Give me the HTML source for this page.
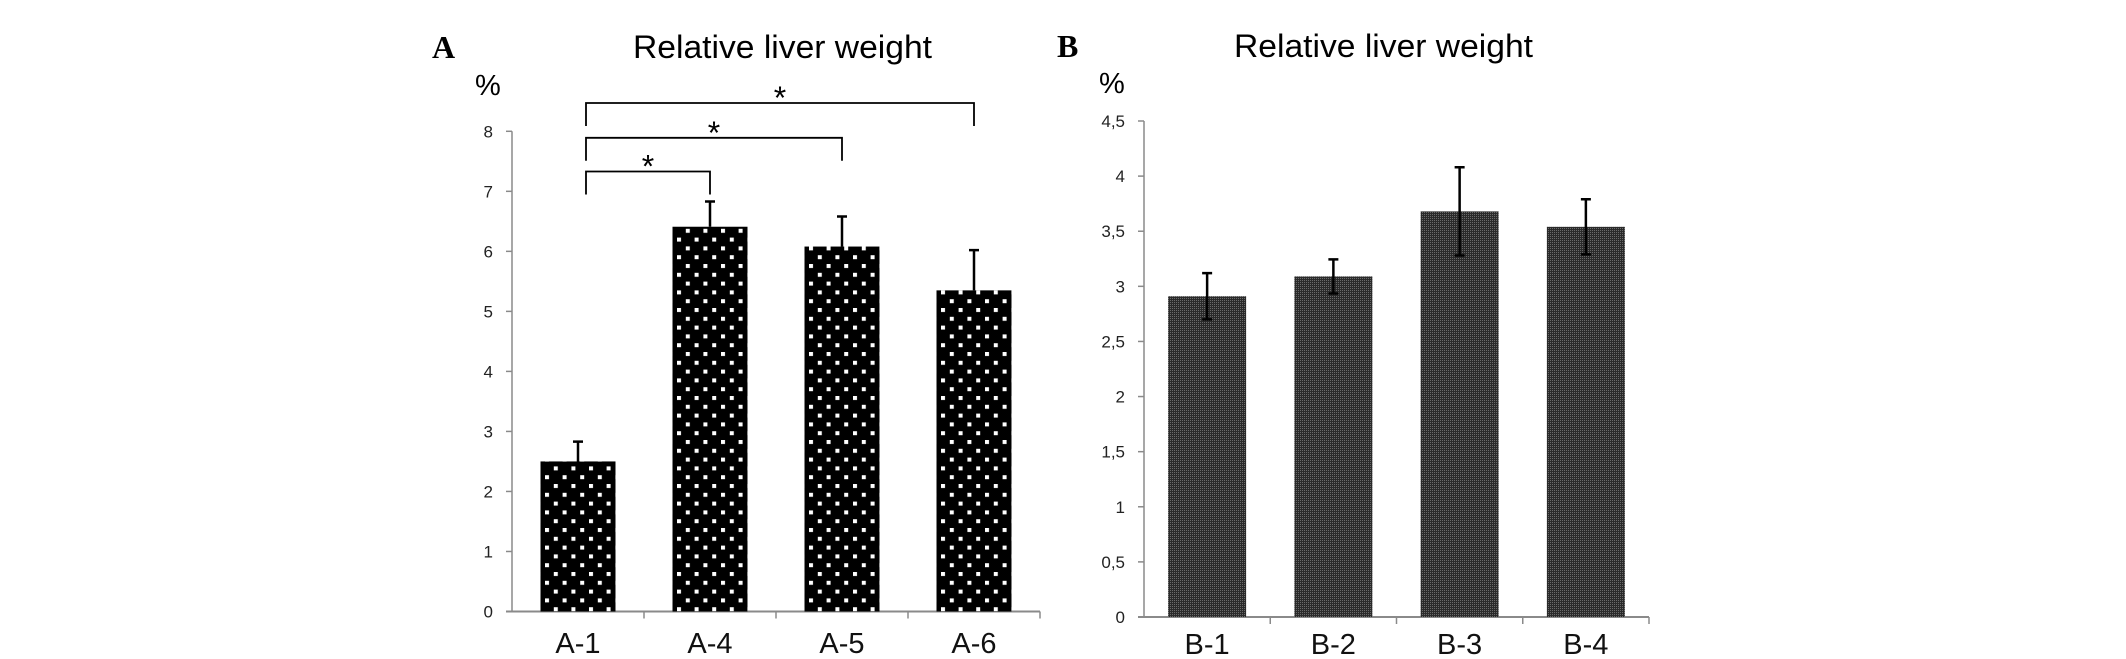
<!DOCTYPE html>
<html><head><meta charset="utf-8"><style>
html,body{margin:0;padding:0;background:#fff;}
svg{display:block;}
text:not([font-family]){font-family:"Liberation Sans",sans-serif;}
</style></head><body>
<svg id="chart" width="2126" height="659" viewBox="0 0 2126 659" xmlns="http://www.w3.org/2000/svg">
<defs>
<pattern id="dots" patternUnits="userSpaceOnUse" width="17.6" height="17.6" x="545" y="0">
<rect width="17.6" height="17.6" fill="#000"/>
<rect x="0" y="0" width="4" height="4" fill="#fff"/>
<rect x="8.8" y="8.8" width="4" height="4" fill="#fff"/>
</pattern>
<pattern id="dither" patternUnits="userSpaceOnUse" width="2" height="2">
<rect width="2" height="2" fill="#2a2a2a"/>
<rect width="1" height="1" fill="#6a6a6a"/>
</pattern>
</defs>
<g id="panelA"></g>
<g id="panelB"></g>
<text x="432" y="58" font-family="Liberation Serif, serif" font-weight="bold" font-size="32" fill="#000">A</text>
<text x="633" y="58" font-family="Liberation Sans, sans-serif" font-size="32" textLength="299" lengthAdjust="spacingAndGlyphs" fill="#000">Relative liver weight</text>
<text x="475" y="95" font-family="Liberation Sans, sans-serif" font-size="29" fill="#000">%</text>
<text x="1057" y="57" font-family="Liberation Serif, serif" font-weight="bold" font-size="32" fill="#000">B</text>
<text x="1234" y="57" font-family="Liberation Sans, sans-serif" font-size="32" textLength="299" lengthAdjust="spacingAndGlyphs" fill="#000">Relative liver weight</text>
<text x="1099" y="93" font-family="Liberation Sans, sans-serif" font-size="29" fill="#000">%</text>
</svg>
<script>
const catsA = ["A-1","A-4","A-5","A-6"];
const valsA = [2.50, 6.41, 6.08, 5.35];
const errA = [0.33, 0.42, 0.50, 0.67];
const ticksA = ["0","1","2","3","4","5","6","7","8"];
const tickValsA = [0,1,2,3,4,5,6,7,8];

const catsB = ["B-1","B-2","B-3","B-4"];
const valsB = [2.91, 3.09, 3.68, 3.54];
const errB = [0.21, 0.155, 0.40, 0.25];
const ticksB = ["0","0,5","1","1,5","2","2,5","3","3,5","4","4,5"];
const tickValsB = [0,0.5,1,1.5,2,2.5,3,3.5,4,4.5];

const NS = "http://www.w3.org/2000/svg";
function mk(parent, tag, attrs, txt){
  const e = document.createElementNS(NS, tag);
  for (const k in attrs) e.setAttribute(k, attrs[k]);
  if (txt !== undefined) e.textContent = txt;
  parent.appendChild(e);
  return e;
}

function drawPanel(g, cfg){
  const {x0, x1, y0, yTop, vmax, cats, vals, errs, ticks, tickVals, fill, barW, symErr, catY} = cfg;
  const yS = v => y0 - (y0 - yTop) * v / vmax;
  const band = (x1 - x0) / cats.length;
  const xC = i => x0 + band * (i + 0.5);
  const ya = mk(g, "line", {x1:x0, y1:yS(vmax), x2:x0, y2:y0, stroke:"#8a8a8a", "stroke-width":1.5});
  
  
  const xa = mk(g, "line", {x1:x0-6, y1:y0, x2:x1, y2:y0, stroke:"#8a8a8a", "stroke-width":2});
  
  
  tickVals.forEach((v, i) => {
    const y = yS(v);
    const tk = mk(g, "line", {x1:x0-6, y1:y, x2:x0, y2:y, stroke:"#8a8a8a", "stroke-width":1.5});
    
    
    const t = mk(g, "text", {x:x0-19, y:y+6, "text-anchor":"end", "font-size":17, fill:"#222"}, ticks[i]);
    
    
  });
  for (let i = 1; i <= cats.length; i++){
    const x = x0 + band * i;
    const tk = mk(g, "line", {x1:x, y1:y0, x2:x, y2:y0+7, stroke:"#8a8a8a", "stroke-width":1.5});
    
    
  }
  cats.forEach((c, i) => {
    const cx = xC(i);
    const top = yS(vals[i]);
    const b = mk(g, "rect", {x:cx-barW/2, y:top, width:barW, height:y0-top, fill:fill});
    
    
    const eTop = yS(vals[i] + errs[i]);
    const eBot = symErr ? yS(vals[i] - errs[i]) : top;
    const el = mk(g, "path", {d:`M${cx} ${eBot} L${cx} ${eTop} M${cx-5} ${eTop} L${cx+5} ${eTop}` + (symErr ? ` M${cx-5} ${eBot} L${cx+5} ${eBot}` : ""), stroke:"#000", "stroke-width":2.5, fill:"none"});
    
    
    const t = mk(g, "text", {x:cx, y:catY, "text-anchor":"middle", "font-size":29, fill:"#111"}, c);
    
    
  });
  return {yS, xC};
}

const gA = document.getElementById("panelA");
const gB = document.getElementById("panelB");
const A = drawPanel(gA, {x0:512, x1:1040, y0:611.5, yTop:131.3, vmax:8, cats:catsA, vals:valsA, errs:errA, ticks:ticksA, tickVals:tickValsA, fill:"url(#dots)", barW:75, symErr:false, catY:653});
drawPanel(gB, {x0:1144, x1:1649, y0:617, yTop:121, vmax:4.5, cats:catsB, vals:valsB, errs:errB, ticks:ticksB, tickVals:tickValsB, fill:"url(#dither)", barW:78, symErr:true, catY:654});

const bracketTargets = [1, 2, 3];
const bracketY = [171.5, 137.8, 103];
bracketTargets.forEach((j, k) => {
  const xa = A.xC(0) + 8, xb = A.xC(j);
  const y = bracketY[k];
  const p = mk(gA, "path", {d:`M${xa} ${y+23} L${xa} ${y} L${xb} ${y} L${xb} ${y+23}`, stroke:"#000", "stroke-width":1.8, fill:"none"});
  
  
  const s = mk(gA, "text", {x:(xa+xb)/2, y:y+6, "text-anchor":"middle", "font-size":32, fill:"#000"}, "*");
  
  
});
</script>
</body></html>
